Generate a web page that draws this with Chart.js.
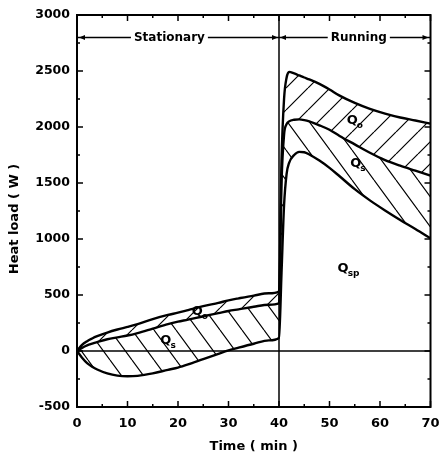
<!DOCTYPE html>
<html>
<head>
<meta charset="utf-8">
<script src="https://cdn.jsdelivr.net/npm/chart.js@4.4.1/dist/chart.umd.min.js"></script>
<style>
  html, body { margin: 0; padding: 0; background: #fff; }
  #wrap { width: 439px; height: 460px; }
</style>
</head>
<body>
<div id="wrap"><canvas id="heatLoad"></canvas></div>
<script>
// time axis (min) shared by the three boundary curves
const time = [0, 1, 2, 3, 4, 6, 8, 10, 12, 15, 18, 20, 22, 25, 28, 30, 32, 35, 38, 40,
  40.5, 41, 41.5, 42, 43, 44, 45, 46, 48, 50, 52, 55, 58, 61, 64, 67, 70]
// upper boundary of Qo
const qTop = [0, 55, 88, 112, 132, 165, 192, 215, 240, 285, 322, 342, 365, 400, 430, 452, 470, 495, 515, 530,
  1700, 2250, 2440, 2492, 2478, 2460, 2442, 2425, 2385, 2335, 2280, 2215, 2162, 2120, 2085, 2058, 2030]
// Qo / Qs boundary
const qMid = [0, 28, 50, 66, 80, 105, 122, 138, 160, 200, 240, 262, 280, 310, 338, 357, 372, 395, 413, 425,
  1500, 1930, 2025, 2050, 2065, 2068, 2062, 2050, 2015, 1975, 1920, 1845, 1770, 1705, 1655, 1610, 1565]
// lower boundary of Qs
const qBot = [0, -60, -108, -140, -165, -200, -220, -226, -222, -200, -168, -148, -120, -72, -25, 5, 30, 65, 95, 116,
  700, 1300, 1580, 1680, 1750, 1778, 1775, 1755, 1700, 1635, 1560, 1445, 1345, 1255, 1170, 1090, 1005]

const xTicks = [0, 10, 20, 30, 40, 50, 60, 70]
const yTicks = [-500, 0, 500, 1000, 1500, 2000, 2500, 3000]

const splitTime = 40
const headerLoad = 2800
const phaseNames = ['Stationary', 'Running']
const phaseTime = [18.3, 55.8]

const regionSub = ['o', 's', 'o', 's', 'sp']
const regionTime = [23.8, 17.6, 54.5, 55.2, 52.7]
const regionLoad = [348, 89, 2054, 1670, 732]

const FONT = '"DejaVu Sans", sans-serif'

function hatch(w, h, rising) {
  const c = document.createElement('canvas')
  c.width = w
  c.height = h
  const g = c.getContext('2d')
  g.strokeStyle = '#000'
  g.lineWidth = 1.2
  g.beginPath()
  for (let k = -1; k <= 1; k++) {
    if (rising) { g.moveTo(k * w, h); g.lineTo(k * w + w, 0) }
    else { g.moveTo(k * w, 0); g.lineTo(k * w + w, h) }
  }
  g.stroke()
  return g.createPattern(c, 'repeat')
}

const pts = (arr) => time.map((t, i) => ({ x: t, y: arr[i] }))

const curve = (arr, fill, bg) => ({
  data: pts(arr),
  borderColor: '#000',
  borderWidth: 2.4,
  pointRadius: 0,
  cubicInterpolationMode: 'monotone',
  fill: fill,
  backgroundColor: bg
})

const plain = (data, width) => ({
  data: data,
  borderColor: '#000',
  borderWidth: width,
  pointRadius: 0,
  fill: false
})

const decor = {
  id: 'decor',
  afterDatasetsDraw(chart) {
    const { ctx, chartArea: a, scales: { x, y } } = chart
    ctx.save()
    ctx.strokeStyle = '#000'
    ctx.fillStyle = '#000'

    // inward ticks on all four sides
    ctx.lineWidth = 1.5
    ctx.beginPath()
    xTicks.forEach((v, i) => {
      const px = x.getPixelForValue(v)
      ctx.moveTo(px, a.bottom); ctx.lineTo(px, a.bottom - 6)
      ctx.moveTo(px, a.top); ctx.lineTo(px, a.top + 6)
      if (i < xTicks.length - 1) {
        const mx = x.getPixelForValue((v + xTicks[i + 1]) / 2)
        ctx.moveTo(mx, a.bottom); ctx.lineTo(mx, a.bottom - 3)
        ctx.moveTo(mx, a.top); ctx.lineTo(mx, a.top + 3)
      }
    })
    yTicks.forEach((v, i) => {
      const py = y.getPixelForValue(v)
      ctx.moveTo(a.left, py); ctx.lineTo(a.left + 6, py)
      ctx.moveTo(a.right, py); ctx.lineTo(a.right - 6, py)
      if (i < yTicks.length - 1) {
        const my = y.getPixelForValue((v + yTicks[i + 1]) / 2)
        ctx.moveTo(a.left, my); ctx.lineTo(a.left + 3, my)
        ctx.moveTo(a.right, my); ctx.lineTo(a.right - 3, my)
      }
    })
    ctx.stroke()

    // frame
    ctx.lineWidth = 2
    ctx.strokeRect(a.left, a.top, a.right - a.left, a.bottom - a.top)

    // header arrows
    const hy = y.getPixelForValue(headerLoad)
    const sx = x.getPixelForValue(splitTime)
    const arrow = (tip, dir) => {
      ctx.beginPath()
      ctx.moveTo(tip, hy)
      ctx.lineTo(tip - dir * 6, hy - 2.5)
      ctx.lineTo(tip - dir * 6, hy + 2.5)
      ctx.closePath()
      ctx.fill()
    }
    arrow(a.left + 2, -1)
    arrow(sx - 1, 1)
    arrow(sx + 1, -1)
    arrow(a.right - 2, 1)

    // phase names
    ctx.font = 'bold 12px ' + FONT
    ctx.textAlign = 'center'
    ctx.textBaseline = 'middle'
    phaseNames.forEach((name, i) => {
      const px = x.getPixelForValue(phaseTime[i])
      const w = ctx.measureText(name).width
      ctx.fillStyle = '#fff'
      ctx.fillRect(px - w / 2 - 3, hy - 7, w + 6, 14)
      ctx.fillStyle = '#000'
      ctx.fillText(name, px, hy)
    })

    // region labels Q_o, Q_s, Q_sp
    regionSub.forEach((sub, i) => {
      const px = x.getPixelForValue(regionTime[i])
      const py = y.getPixelForValue(regionLoad[i])
      ctx.font = 'bold 13px ' + FONT
      ctx.textAlign = 'center'
      ctx.textBaseline = 'middle'
      const qw = ctx.measureText('Q').width
      ctx.fillStyle = '#000'
      ctx.fillText('Q', px, py)
      ctx.font = 'bold 9px ' + FONT
      ctx.textAlign = 'left'
      ctx.fillText(sub, px + qw / 2 - 1, py + 5)
    })

    // y axis title
    ctx.font = 'bold 13px ' + FONT
    ctx.textAlign = 'center'
    ctx.textBaseline = 'middle'
    ctx.translate(15, 219)
    ctx.rotate(-Math.PI / 2)
    ctx.fillText('Heat load ( W )', 0, 0)
    ctx.restore()
  }
}

new Chart(document.getElementById('heatLoad'), {
  type: 'line',
  data: {
    datasets: [
      curve(qTop, '+1', hatch(22, 22, true)),
      curve(qMid, '+1', hatch(22, 30, false)),
      curve(qBot, false, 'transparent'),
      plain([{ x: splitTime, y: yTicks[0] }, { x: splitTime, y: yTicks[yTicks.length - 1] }], 1.5),
      plain([{ x: xTicks[0], y: 0 }, { x: xTicks[xTicks.length - 1], y: 0 }], 1.5),
      plain([{ x: xTicks[0], y: headerLoad }, { x: xTicks[xTicks.length - 1], y: headerLoad }], 1.5)
    ]
  },
  options: {
    responsive: true,
    maintainAspectRatio: false,
    animation: false,
    events: [],
    layout: { padding: { top: 15, right: 8.5, left: 0, bottom: 0 } },
    plugins: { legend: { display: false }, tooltip: { enabled: false } },
    scales: {
      x: {
        type: 'linear',
        min: xTicks[0],
        max: xTicks[xTicks.length - 1],
        afterBuildTicks: (s) => { s.ticks = xTicks.map(v => ({ value: v })) },
        afterFit: (s) => { s.height = 53; s.paddingLeft = 0; s.paddingRight = 0 },
        grid: { display: false, drawTicks: false },
        border: { display: false },
        ticks: { color: '#000', padding: 9, maxRotation: 0, callback: (v) => String(v), font: { family: FONT, weight: 'bold', size: 13 } },
        title: { display: true, text: 'Time ( min )', color: '#000', padding: { top: 0, bottom: 6 }, font: { family: FONT, weight: 'bold', size: 13 } }
      },
      y: {
        type: 'linear',
        min: yTicks[0],
        max: yTicks[yTicks.length - 1],
        afterBuildTicks: (s) => { s.ticks = yTicks.map(v => ({ value: v })) },
        afterFit: (s) => { s.width = 77; s.paddingTop = 0; s.paddingBottom = 0 },
        grid: { display: false, drawTicks: false },
        border: { display: false },
        ticks: { color: '#000', padding: 7, callback: (v) => String(v), font: { family: FONT, weight: 'bold', size: 12.5 } }
      }
    }
  },
  plugins: [decor]
})
</script>
</body>
</html>
